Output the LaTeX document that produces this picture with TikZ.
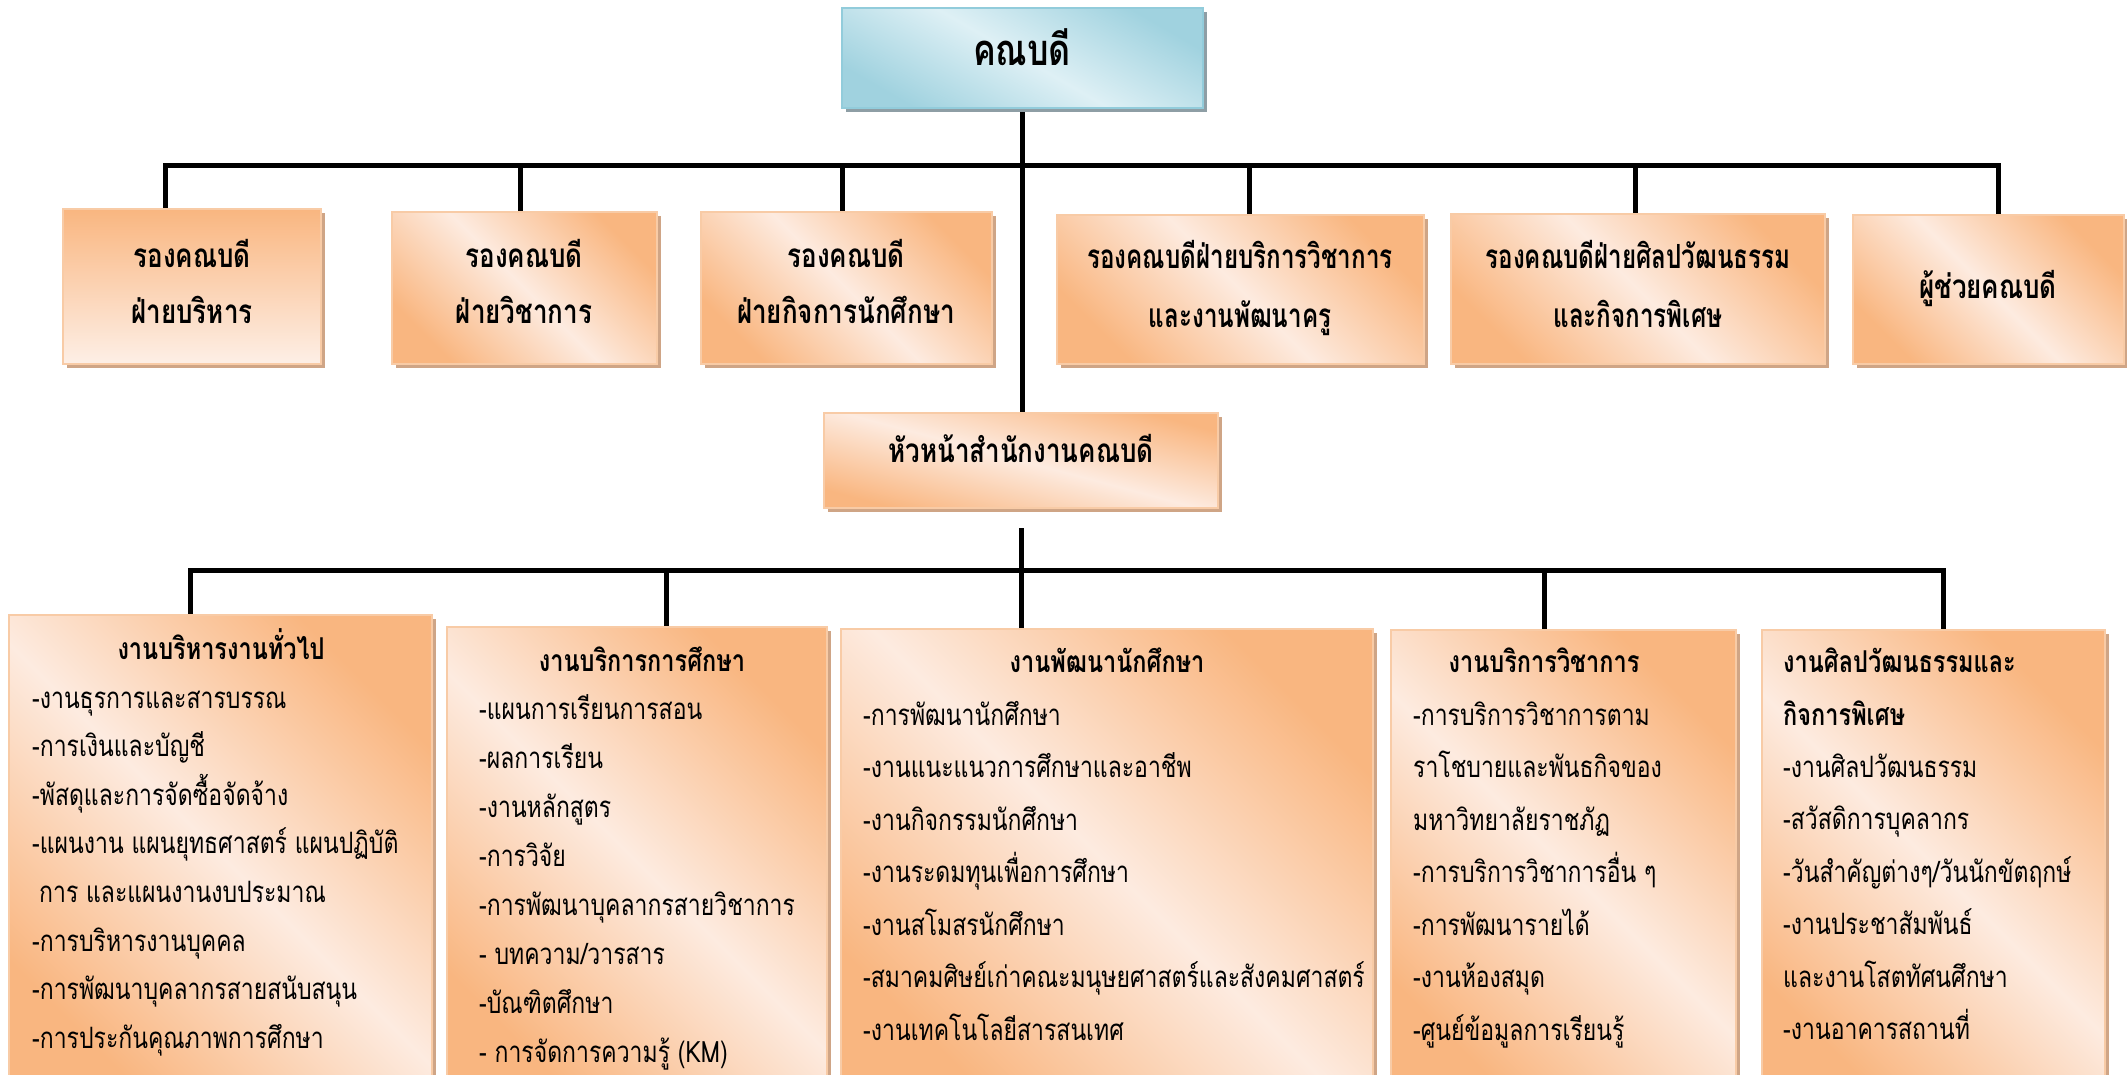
\documentclass[tikz,border=0pt]{standalone}
\usepackage{fontspec}
\usepackage{graphicx}
\setmainfont{Loma}[Script=Thai]
\usetikzlibrary{shadows}
\definecolor{od}{HTML}{F9B680}
\definecolor{ol}{HTML}{FDEBE0}
\definecolor{obr}{HTML}{F8CBA6}
\definecolor{osh}{HTML}{CFA586}
\definecolor{bd}{HTML}{A0D2DF}
\definecolor{bl}{HTML}{DEF0F5}
\definecolor{bbr}{HTML}{92CCDB}
\definecolor{bsh}{HTML}{8E9EA5}
\newcommand{\vtall}[1]{\scalebox{1}[1.28]{#1}}
\newcommand{\vtallc}[1]{\scalebox{0.93}[1.28]{#1}}
\pgfdeclarelayer{background}
\pgfsetlayers{background,main}
\begin{document}
\begin{tikzpicture}[x=1pt,y=-1pt,
  conn/.style={line width=5pt, draw=black},
  boxbase/.style={line width=2pt, inner sep=0pt, outer sep=0pt, anchor=north west},
  obox/.style={boxbase, draw=obr, top color=od, bottom color=od, middle color=ol, shading angle=-45,
     general shadow={fill=osh, shadow xshift=4pt, shadow yshift=-4pt}},
  ovbox/.style={boxbase, draw=obr, top color=od, bottom color=ol!80!white, shading angle=0,
     general shadow={fill=osh, shadow xshift=4pt, shadow yshift=-4pt}},
  bbox/.style={boxbase, draw=bbr, top color=bd, bottom color=bd, middle color=bl, shading angle=-30,
     general shadow={fill=bsh, shadow xshift=4pt, shadow yshift=-4pt}},
  toptxt/.style={font=\bfseries\fontsize{34}{34}\selectfont, inner sep=0pt, anchor=base},
  rtxt/.style={font=\bfseries\fontsize{26}{26}\selectfont, inner sep=0pt, anchor=base},
  ttl/.style={font=\bfseries\fontsize{23.5}{23.5}\selectfont, inner sep=0pt},
  body/.style={font=\fontsize{23}{23}\selectfont, inner sep=0pt, anchor=base west}
]
\useasboundingbox (0,0) rectangle (2127,1074);
\clip (0,0) rectangle (2127,1074);

% top box
\node[bbox, minimum width=361, minimum height=100] (dean) at (842,8) {};
\node[toptxt] (deant) at (1022,65) {\vtall{คณบดี}};

% second row
\node[ovbox, minimum width=258, minimum height=155] (r1) at (63,209) {};
\node[obox, minimum width=265, minimum height=152] (r2) at (392,212) {};
\node[obox, minimum width=291, minimum height=152] (r3) at (701,212) {};
\node[obox, minimum width=367, minimum height=149] (r4) at (1057,215) {};
\node[obox, minimum width=374, minimum height=150] (r5) at (1451,214) {};
\node[obox, minimum width=271, minimum height=149] (r6) at (1853,215) {};

\node[rtxt] (r1a) at (192,267) {\vtall{รองคณบดี}};
\node[rtxt] (r1b) at (192,323) {\vtall{ฝ่ายบริหาร}};
\node[rtxt] (r2a) at (524,267) {\vtall{รองคณบดี}};
\node[rtxt] (r2b) at (524,323) {\vtall{ฝ่ายวิชาการ}};
\node[rtxt] (r3a) at (846,267) {\vtall{รองคณบดี}};
\node[rtxt] (r3b) at (846,323) {\vtall{ฝ่ายกิจการนักศึกษา}};
\node[rtxt] (r4a) at (1240,268) {\vtallc{รองคณบดีฝ่ายบริการวิชาการ}};
\node[rtxt] (r4b) at (1240,327) {\vtallc{และงานพัฒนาครู}};
\node[rtxt] (r5a) at (1638,268) {\vtallc{รองคณบดีฝ่ายศิลปวัฒนธรรม}};
\node[rtxt] (r5b) at (1638,327) {\vtallc{และกิจการพิเศษ}};
\node[rtxt] (r6a) at (1988,298) {\vtall{ผู้ช่วยคณบดี}};

% head of office
\node[obox, shading angle=-15, minimum width=394, minimum height=95] (head) at (824,413) {};
\node[rtxt] (headt) at (1021,462) {\vtall{หัวหน้าสำนักงานคณบดี}};

% bottom row boxes
\node[obox, minimum width=423, minimum height=480] (u1) at (9,615) {};
\node[obox, minimum width=380, minimum height=470] (u2) at (447,627) {};
\node[obox, minimum width=532, minimum height=470] (u3) at (841,629) {};
\node[obox, minimum width=345, minimum height=470] (u4) at (1391,630) {};
\node[obox, minimum width=343, minimum height=470] (u5) at (1762,630) {};

% box 1
\node[ttl, anchor=base] (u1t) at (221,659) {\vtall{งานบริหารงานทั่วไป}};
\foreach \t [count=\i] in {{-งานธุรการและสารบรรณ},{-การเงินและบัญชี},{-พัสดุและการจัดซื้อจัดจ้าง},{-แผนงาน แผนยุทธศาสตร์ แผนปฏิบัติ}}
  \node[body] (u1l\i) at (32,{708+48.6*(\i-1)}) {\vtall{\t}};
\node[body] (u1l5) at (39,902) {\vtall{การ และแผนงานงบประมาณ}};
\foreach \t [count=\i from 6] in {{-การบริหารงานบุคคล},{-การพัฒนาบุคลากรสายสนับสนุน},{-การประกันคุณภาพการศึกษา}}
  \node[body] (u1l\i) at (32,{708+48.6*(\i-1)}) {\vtall{\t}};

% box 2
\node[ttl, anchor=base] (u2t) at (642,671) {\vtall{งานบริการการศึกษา}};
\foreach \t [count=\i] in {{-แผนการเรียนการสอน},{-ผลการเรียน},{-งานหลักสูตร},{-การวิจัย},{-การพัฒนาบุคลากรสายวิชาการ},{- บทความ/วารสาร},{-บัณฑิตศึกษา},{- การจัดการความรู้ (KM)}}
  \node[body] (u2l\i) at (479,{719+49*(\i-1)}) {\vtall{\t}};

% box 3
\node[ttl, anchor=base] (u3t) at (1107,672) {\vtall{งานพัฒนานักศึกษา}};
\foreach \t [count=\i] in {{-การพัฒนานักศึกษา},{-งานแนะแนวการศึกษาและอาชีพ},{-งานกิจกรรมนักศึกษา},{-งานระดมทุนเพื่อการศึกษา},{-งานสโมสรนักศึกษา},{-สมาคมศิษย์เก่าคณะมนุษยศาสตร์และสังคมศาสตร์},{-งานเทคโนโลยีสารสนเทศ}}
  \node[body] (u3l\i) at (863,{725+52.5*(\i-1)}) {\vtall{\t}};

% box 4
\node[ttl, anchor=base] (u4t) at (1544,672) {\vtall{งานบริการวิชาการ}};
\foreach \t [count=\i] in {{-การบริการวิชาการตาม},{ราโชบายและพันธกิจของ},{มหาวิทยาลัยราชภัฏ},{-การบริการวิชาการอื่น ๆ},{-การพัฒนารายได้},{-งานห้องสมุด},{-ศูนย์ข้อมูลการเรียนรู้}}
  \node[body] (u4l\i) at (1413,{725+52.5*(\i-1)}) {\vtall{\t}};

% box 5
\node[ttl, anchor=base west] (u5t) at (1783,672) {\vtall{งานศิลปวัฒนธรรมและ}};
\node[ttl, anchor=base west] (u5t2) at (1783,725) {\vtall{กิจการพิเศษ}};
\foreach \t [count=\i] in {{-งานศิลปวัฒนธรรม},{-สวัสดิการบุคลากร},{-วันสำคัญต่างๆ/วันนักขัตฤกษ์},{-งานประชาสัมพันธ์},{และงานโสตทัศนศึกษา},{-งานอาคารสถานที่}}
  \node[body] (u5l\i) at (1783,{777+52.5*(\i-1)}) {\vtall{\t}};

% junctions
\coordinate (p1) at (165,165);
\coordinate (p2) at (520,165);
\coordinate (p3) at (842,165);
\coordinate (p4) at (1249,165);
\coordinate (p5) at (1635,165);
\coordinate (p6) at (1998,165);
\coordinate (q1) at (190,570);
\coordinate (q2) at (666,570);
\coordinate (q3) at (1021,570);
\coordinate (q4) at (1544,570);
\coordinate (q5) at (1943,570);

\begin{pgfonlayer}{background}
\draw[conn] (dean.south) -- (dean.south |- head.north);
\draw[conn, line join=miter] (p1 |- r1.north) -- (p1) -- (p6) -- (p6 |- r6.north);
\draw[conn] (p2) -- (p2 |- r2.north);
\draw[conn] (p3) -- (p3 |- r3.north);
\draw[conn] (p4) -- (p4 |- r4.north);
\draw[conn] (p5) -- (p5 |- r5.north);
\draw[conn, shorten <=20pt] (head.south) -- (head.south |- q3);
\draw[conn, line join=miter] (q1 |- u1.north) -- (q1) -- (q5) -- (q5 |- u5.north);
\draw[conn] (q2) -- (q2 |- u2.north);
\draw[conn] (q3) -- (q3 |- u3.north);
\draw[conn] (q4) -- (q4 |- u4.north);
\end{pgfonlayer}
\end{tikzpicture}
\end{document}
